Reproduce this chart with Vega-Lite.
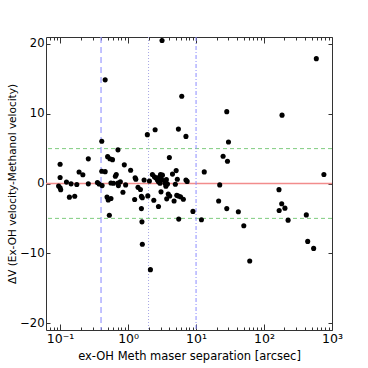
{
  "$schema": "https://vega.github.io/schema/vega-lite/v6.json",
  "width": 286,
  "height": 293,
  "autosize": {"type": "none"},
  "padding": {"left": 46, "top": 37, "right": 36, "bottom": 38},
  "background": "white",
  "config": {
    "view": {"stroke": "#333", "strokeWidth": 1},
    "font": "DejaVu Sans",
    "axis": {"grid": false, "domain": false, "labelFont": "DejaVu Sans", "titleFont": "DejaVu Sans", "labelFontSize": 11.5, "titleFontSize": 11.5, "titleFontWeight": "normal", "labelColor": "#000", "titleColor": "#000", "tickColor": "#333"}
  },
  "datasets": {
    "pts": [
      {"sep": 0.1, "dv": 2.77}, {"sep": 0.1, "dv": 0.85}, {"sep": 0.095, "dv": -0.36}, {"sep": 0.1, "dv": -0.6}, {"sep": 0.102, "dv": -0.9},
      {"sep": 0.124, "dv": 0.2}, {"sep": 0.145, "dv": -0.05}, {"sep": 0.137, "dv": -1.96}, {"sep": 0.164, "dv": -1.82}, {"sep": 0.176, "dv": -0.15},
      {"sep": 0.19, "dv": 1.64}, {"sep": 0.216, "dv": 1.25}, {"sep": 0.26, "dv": 3.53}, {"sep": 0.26, "dv": -0.05}, {"sep": 0.354, "dv": 0.15},
      {"sep": 0.375, "dv": -0.07}, {"sep": 0.41, "dv": 6.05}, {"sep": 0.41, "dv": 1.76}, {"sep": 0.415, "dv": -0.3}, {"sep": 0.46, "dv": 1.7},
      {"sep": 0.46, "dv": 14.86}, {"sep": 0.5, "dv": 3.85}, {"sep": 0.54, "dv": 3.55}, {"sep": 0.59, "dv": 3.42}, {"sep": 0.71, "dv": 4.82},
      {"sep": 0.88, "dv": 2.67}, {"sep": 0.56, "dv": 0.07}, {"sep": 0.61, "dv": 0.03}, {"sep": 0.65, "dv": 1.05}, {"sep": 0.67, "dv": 1.28},
      {"sep": 0.71, "dv": 0.05}, {"sep": 0.77, "dv": 0.25}, {"sep": 0.72, "dv": -0.3}, {"sep": 0.92, "dv": -0.2}, {"sep": 0.84, "dv": -1.25},
      {"sep": 0.49, "dv": -1.95}, {"sep": 0.56, "dv": -2.16}, {"sep": 0.51, "dv": -2.35}, {"sep": 0.53, "dv": -4.55}, {"sep": 1.09, "dv": 1.9},
      {"sep": 1.27, "dv": 0.82}, {"sep": 1.3, "dv": 0.6}, {"sep": 1.4, "dv": -0.55}, {"sep": 1.52, "dv": -0.85}, {"sep": 1.25, "dv": -2.3},
      {"sep": 1.57, "dv": -1.85}, {"sep": 1.62, "dv": -2.05}, {"sep": 1.57, "dv": -3.6}, {"sep": 1.6, "dv": -5.5}, {"sep": 1.62, "dv": -8.7},
      {"sep": 2.13, "dv": -12.35}, {"sep": 1.72, "dv": 0.5}, {"sep": 1.95, "dv": -1.78}, {"sep": 1.92, "dv": 7.0}, {"sep": 2.06, "dv": 0.36},
      {"sep": 2.28, "dv": 1.3}, {"sep": 2.44, "dv": 0.97}, {"sep": 2.55, "dv": 0.82}, {"sep": 2.7, "dv": 0.5}, {"sep": 2.8, "dv": 0.26},
      {"sep": 2.86, "dv": 0.88}, {"sep": 3.0, "dv": 1.3}, {"sep": 3.05, "dv": 1.07}, {"sep": 3.2, "dv": 1.2}, {"sep": 3.16, "dv": 0.5},
      {"sep": 2.95, "dv": 0.03}, {"sep": 3.5, "dv": 0.03}, {"sep": 3.66, "dv": 0.55}, {"sep": 3.6, "dv": -0.4}, {"sep": 3.8, "dv": -0.07},
      {"sep": 3.9, "dv": -1.5}, {"sep": 4.1, "dv": -1.8}, {"sep": 3.7, "dv": -2.2}, {"sep": 3.05, "dv": -1.2}, {"sep": 2.8, "dv": -3.3},
      {"sep": 2.39, "dv": -2.4}, {"sep": 3.16, "dv": 20.5}, {"sep": 2.5, "dv": 7.7}, {"sep": 4.05, "dv": 3.73}, {"sep": 4.5, "dv": 1.35},
      {"sep": 4.96, "dv": -0.1}, {"sep": 5.1, "dv": 1.85}, {"sep": 5.3, "dv": 0.6}, {"sep": 4.75, "dv": -2.5}, {"sep": 5.2, "dv": -1.7},
      {"sep": 5.5, "dv": -1.8}, {"sep": 5.9, "dv": -1.9}, {"sep": 6.5, "dv": -2.25}, {"sep": 5.56, "dv": -5.1}, {"sep": 5.5, "dv": 7.8},
      {"sep": 6.16, "dv": 12.5}, {"sep": 7.1, "dv": 6.75}, {"sep": 7.1, "dv": 0.5}, {"sep": 7.4, "dv": 0.3}, {"sep": 9.0, "dv": -4.0},
      {"sep": 12, "dv": -5.2}, {"sep": 13.2, "dv": 1.66}, {"sep": 22.3, "dv": -0.2}, {"sep": 21.5, "dv": -2.5}, {"sep": 28.3, "dv": -3.6},
      {"sep": 41.9, "dv": -4.05}, {"sep": 50.4, "dv": -6.05}, {"sep": 61.6, "dv": -11.1}, {"sep": 25, "dv": 3.9}, {"sep": 29, "dv": 3.2},
      {"sep": 30, "dv": 5.95}, {"sep": 28.3, "dv": 10.3}, {"sep": 166, "dv": -0.88}, {"sep": 182, "dv": -2.9}, {"sep": 167, "dv": -3.87},
      {"sep": 203, "dv": -3.53}, {"sep": 226, "dv": -5.25}, {"sep": 419, "dv": -4.5}, {"sep": 439, "dv": -8.3}, {"sep": 537, "dv": -9.3},
      {"sep": 760, "dv": 1.3}, {"sep": 184, "dv": 9.8}, {"sep": 588, "dv": 17.9}
    ],
    "hz": [{"dv": 5}, {"dv": -5}],
    "zero": [{"dv": 0}],
    "v1": [{"sep": 0.4}],
    "v2": [{"sep": 2}],
    "v3": [{"sep": 10}]
  },
  "resolve": {"axis": {"x": "independent", "y": "independent"}},
  "layer": [
    {
      "data": {"name": "zero"},
      "mark": {"type": "rule", "color": "#f28c8c", "strokeWidth": 1.5},
      "encoding": {
        "y": {"field": "dv", "type": "quantitative", "scale": {"domain": [-21, 21], "nice": false, "zero": false},
              "axis": {"orient": "right", "values": [-20, -10, 0, 10, 20], "labels": false, "tickSize": -4, "title": null}}
      }
    },
    {
      "data": {"name": "hz"},
      "mark": {"type": "rule", "color": "#7fcc7f", "strokeWidth": 1, "strokeDash": [4, 3]},
      "encoding": {"y": {"field": "dv", "type": "quantitative", "axis": null}}
    },
    {
      "data": {"name": "v1"},
      "mark": {"type": "rule", "color": "#9a9aff", "strokeWidth": 1.2, "strokeDash": [6, 4]},
      "encoding": {
        "x": {"field": "sep", "type": "quantitative", "scale": {"type": "log", "domain": [0.062, 1000], "nice": false},
              "axis": {"orient": "top", "labels": false, "title": null,
                       "values": [0.07, 0.08, 0.09, 0.1, 0.2, 0.3, 0.4, 0.5, 0.6, 0.7, 0.8, 0.9, 1, 2, 3, 4, 5, 6, 7, 8, 9, 10, 20, 30, 40, 50, 60, 70, 80, 90, 100, 200, 300, 400, 500, 600, 700, 800, 900, 1000],
                       "tickSize": {"condition": {"test": "abs(log(datum.value)/LN10 - round(log(datum.value)/LN10)) < 0.000001", "value": -6}, "value": -3}}}
      }
    },
    {
      "data": {"name": "v2"},
      "mark": {"type": "rule", "color": "#a8a8e6", "strokeWidth": 1, "strokeDash": [1, 2]},
      "encoding": {"x": {"field": "sep", "type": "quantitative", "axis": null}}
    },
    {
      "data": {"name": "v3"},
      "mark": {"type": "rule", "color": "#8c8cff", "strokeWidth": 1, "strokeDash": [4, 2, 1, 2]},
      "encoding": {"x": {"field": "sep", "type": "quantitative", "axis": null}}
    },
    {
      "data": {"name": "pts"},
      "mark": {"type": "circle", "color": "#000", "opacity": 1, "size": 26},
      "encoding": {
        "x": {"field": "sep", "type": "quantitative",
              "axis": {"orient": "bottom", "title": "ex-OH Meth maser separation [arcsec]", "titlePadding": 3, "labelPadding": 8, "labelFontSize": 12.5,
                       "values": [0.07, 0.08, 0.09, 0.1, 0.2, 0.3, 0.4, 0.5, 0.6, 0.7, 0.8, 0.9, 1, 2, 3, 4, 5, 6, 7, 8, 9, 10, 20, 30, 40, 50, 60, 70, 80, 90, 100, 200, 300, 400, 500, 600, 700, 800, 900, 1000],
                       "labelExpr": "datum.value == 0.1 ? '10⁻¹' : datum.value == 1 ? '10⁰' : datum.value == 10 ? '10¹' : datum.value == 100 ? '10²' : datum.value == 1000 ? '10³' : ''",
                       "labelFlush": false, "labelOverlap": false,
                       "tickSize": {"condition": {"test": "abs(log(datum.value)/LN10 - round(log(datum.value)/LN10)) < 0.000001", "value": -6}, "value": -3}}},
        "y": {"field": "dv", "type": "quantitative",
              "axis": {"orient": "left", "title": "ΔV (Ex-OH velocity-Methanol velocity)", "titleFontSize": 10.5, "values": [-20, -10, 0, 10, 20], "tickSize": -4, "labelPadding": 6, "titlePadding": 2,
                       "labelExpr": "datum.value < 0 ? '−' + abs(datum.value) : datum.label"}}
      }
    }
  ]
}
